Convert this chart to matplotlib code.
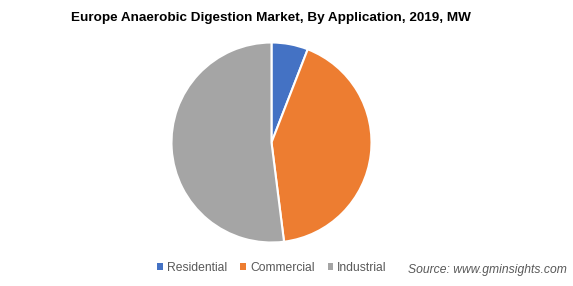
import matplotlib.pyplot as plt
from matplotlib.patches import Patch

plt.rcParams['font.family'] = ['Liberation Sans', 'DejaVu Sans']

labels = ['Residential', 'Commercial', 'Industrial']
shares = [5.9, 42.1, 52.0]
colors = ['#4472C4', '#ED7D31', '#A5A5A5']

fig = plt.figure(figsize=(5.73, 2.86), dpi=100)
ax = fig.add_axes([171.5 / 573, (286 - 242.5) / 286, 200 / 573, 200 / 286])
ax.pie(shares, colors=colors, startangle=90, counterclock=False,
       wedgeprops=dict(edgecolor='white', linewidth=1.5))
ax.set_xlim(-1, 1)
ax.set_ylim(-1, 1)
ax.set_aspect('equal')

fig.text(270.5 / 573, 1 - 18 / 286, 'Europe Anaerobic Digestion Market, By Application, 2019, MW',
         ha='center', va='center', fontsize=9.7, fontweight='bold', color='#000000')

handles = [Patch(facecolor=c, edgecolor='none') for c in colors]
leg = fig.legend(handles, labels, loc='center', bbox_to_anchor=(272 / 573, 1 - 268 / 286),
                 ncol=3, frameon=False, fontsize=8.7, handlelength=0.45, handleheight=0.45,
                 handletextpad=0.35, columnspacing=1.1, labelcolor='#595959')

fig.text(567 / 573, 1 - 270 / 286, 'Source: www.gminsights.com', ha='right', va='center',
         fontsize=8.7, style='italic', color='#595959')

fig.savefig('out.png', dpi=100)
